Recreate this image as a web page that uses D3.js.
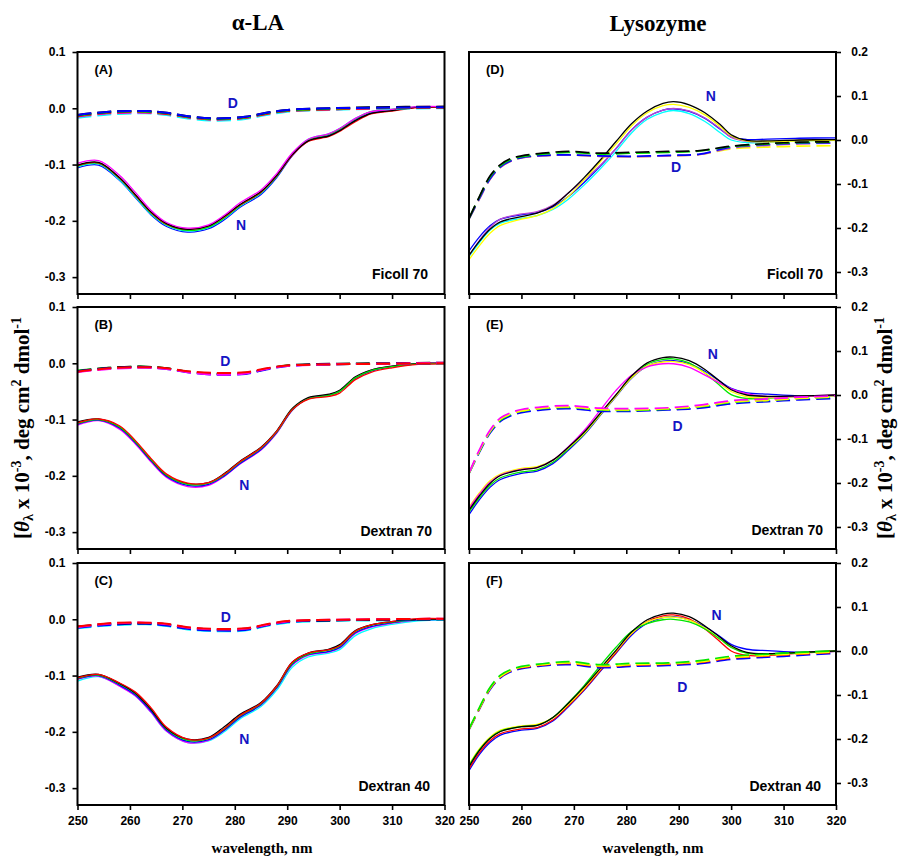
<!DOCTYPE html>
<html>
<head>
<meta charset="utf-8">
<script src="https://cdn.jsdelivr.net/npm/d3@7"></script>
<style>
  body { margin: 0; background: #fff; }
</style>
</head>
<body>
<svg id="chart"></svg>
<script>
// wavelength knots (nm)
const wlAlaN = [250, 254, 258, 261, 264, 267, 271, 275, 278, 281, 285, 288, 291, 294, 298, 300, 303, 306, 310, 315, 320];
const wlAlaD = [250, 256, 263, 267, 271, 276, 282, 286, 290, 298, 307, 320];
const wlLysN = [250, 252, 254, 256, 260, 263, 266, 269, 272, 275, 278, 281, 284, 287, 289, 292, 295, 298, 300, 303, 307, 313, 320];
const wlLysD = [250, 252, 254, 256, 258, 260, 264, 269, 275, 281, 288, 294, 300, 307, 313, 320];

const xTicks = [250, 260, 270, 280, 290, 300, 310, 320];
const yTicksAla = [0.1, 0.0, -0.1, -0.2, -0.3];
const yTicksLys = [0.2, 0.1, 0.0, -0.1, -0.2, -0.3];

//////////////////// alpha-LA, Ficoll 70 (A)
const aNMagenta = [-0.098,-0.093,-0.119,-0.149,-0.181,-0.203,-0.213,-0.207,-0.190,-0.168,-0.145,-0.116,-0.079,-0.055,-0.045,-0.036,-0.018,-0.006,-0.002,0.003,0.003];
const aNBlack = [-0.101,-0.096,-0.123,-0.153,-0.184,-0.205,-0.215,-0.209,-0.192,-0.171,-0.148,-0.119,-0.082,-0.058,-0.049,-0.040,-0.022,-0.009,-0.004,0.002,0.003];
const aNRed = [-0.102,-0.097,-0.124,-0.154,-0.185,-0.206,-0.215,-0.209,-0.193,-0.172,-0.149,-0.120,-0.083,-0.059,-0.050,-0.041,-0.024,-0.010,-0.005,0.001,0.002];
const aNGreen = [-0.103,-0.098,-0.125,-0.155,-0.186,-0.207,-0.217,-0.211,-0.195,-0.173,-0.150,-0.121,-0.082,-0.056,-0.046,-0.037,-0.019,-0.006,-0.002,0.002,0.002];
const aNCyan = [-0.104,-0.099,-0.127,-0.157,-0.188,-0.208,-0.218,-0.212,-0.196,-0.174,-0.151,-0.121,-0.081,-0.055,-0.045,-0.036,-0.018,-0.006,-0.002,0.002,0.002];
const aNBlue = [-0.106,-0.101,-0.128,-0.158,-0.189,-0.210,-0.220,-0.214,-0.198,-0.176,-0.153,-0.123,-0.084,-0.058,-0.048,-0.039,-0.021,-0.008,-0.003,0.002,0.003];

const aDBlack = [-0.012,-0.006,-0.005,-0.008,-0.014,-0.018,-0.015,-0.008,-0.003,0.000,0.002,0.003];
const aDBlue = [-0.012,-0.006,-0.005,-0.008,-0.014,-0.018,-0.015,-0.008,-0.003,0.000,0.001,0.002];
const aDGreen = [-0.013,-0.007,-0.006,-0.009,-0.015,-0.019,-0.016,-0.009,-0.004,-0.001,0.001,0.002];
const aDRed = [-0.014,-0.008,-0.007,-0.010,-0.016,-0.020,-0.017,-0.010,-0.005,-0.002,0.000,0.001];
const aDMagenta = [-0.015,-0.009,-0.008,-0.010,-0.016,-0.020,-0.017,-0.010,-0.005,-0.002,0.000,0.001];
const aDCyan = [-0.017,-0.011,-0.009,-0.012,-0.018,-0.022,-0.019,-0.012,-0.006,-0.003,-0.001,0.000];

//////////////////// alpha-LA, Dextran 70 (B)
const bNBlack = [-0.104,-0.099,-0.113,-0.139,-0.171,-0.199,-0.214,-0.212,-0.196,-0.174,-0.149,-0.120,-0.080,-0.061,-0.055,-0.048,-0.024,-0.012,-0.005,0.000,0.000];
const bNRed = [-0.106,-0.099,-0.111,-0.137,-0.169,-0.197,-0.213,-0.212,-0.197,-0.175,-0.150,-0.121,-0.082,-0.064,-0.059,-0.053,-0.029,-0.016,-0.008,-0.002,-0.001];
const bNGreen = [-0.107,-0.100,-0.113,-0.139,-0.171,-0.199,-0.215,-0.213,-0.198,-0.176,-0.151,-0.122,-0.082,-0.063,-0.057,-0.050,-0.026,-0.013,-0.006,-0.001,0.000];
const bNBlue = [-0.108,-0.101,-0.115,-0.141,-0.173,-0.201,-0.217,-0.215,-0.200,-0.178,-0.153,-0.123,-0.083,-0.063,-0.057,-0.050,-0.027,-0.014,-0.006,-0.001,0.000];
const bNMagenta = [-0.110,-0.102,-0.117,-0.143,-0.175,-0.203,-0.219,-0.217,-0.201,-0.179,-0.154,-0.124,-0.083,-0.062,-0.056,-0.049,-0.025,-0.012,-0.005,-0.001,0.001];

const bDRed = [-0.015,-0.009,-0.007,-0.009,-0.014,-0.017,-0.016,-0.009,-0.004,-0.002,-0.001,0.000];
const bDGreen = [-0.013,-0.008,-0.006,-0.009,-0.015,-0.018,-0.017,-0.010,-0.004,-0.002,-0.001,0.000];
const bDBlack = [-0.014,-0.008,-0.006,-0.009,-0.015,-0.019,-0.018,-0.010,-0.004,-0.001,0.000,0.001];
const bDBlue = [-0.014,-0.009,-0.007,-0.010,-0.016,-0.020,-0.019,-0.011,-0.005,-0.002,-0.001,0.000];
const bDMagenta = [-0.016,-0.010,-0.008,-0.010,-0.016,-0.020,-0.018,-0.010,-0.005,-0.002,-0.001,0.001];

//////////////////// alpha-LA, Dextran 40 (C)
const cNCyan = [-0.110,-0.102,-0.118,-0.136,-0.165,-0.199,-0.219,-0.216,-0.200,-0.177,-0.155,-0.126,-0.085,-0.067,-0.060,-0.054,-0.029,-0.017,-0.009,-0.003,-0.001];
const cNMagenta = [-0.107,-0.101,-0.119,-0.136,-0.165,-0.199,-0.219,-0.215,-0.197,-0.174,-0.152,-0.122,-0.081,-0.064,-0.058,-0.051,-0.025,-0.014,-0.007,-0.001,0.000];
const cNBlue = [-0.106,-0.100,-0.117,-0.134,-0.163,-0.197,-0.217,-0.214,-0.197,-0.174,-0.152,-0.122,-0.080,-0.063,-0.057,-0.050,-0.024,-0.013,-0.006,-0.001,0.000];
const cNGreen = [-0.105,-0.099,-0.115,-0.132,-0.160,-0.195,-0.215,-0.212,-0.195,-0.172,-0.150,-0.120,-0.078,-0.062,-0.055,-0.048,-0.022,-0.011,-0.005,0.000,0.000];
const cNBlack = [-0.103,-0.098,-0.114,-0.131,-0.160,-0.194,-0.213,-0.210,-0.191,-0.169,-0.148,-0.118,-0.076,-0.060,-0.053,-0.045,-0.020,-0.010,-0.004,0.000,0.000];
const cNRed = [-0.104,-0.098,-0.113,-0.129,-0.157,-0.192,-0.213,-0.211,-0.194,-0.171,-0.149,-0.119,-0.076,-0.060,-0.054,-0.047,-0.021,-0.010,-0.004,0.001,0.001];

const cDCyan = [-0.016,-0.011,-0.009,-0.012,-0.018,-0.021,-0.020,-0.012,-0.006,-0.003,-0.002,-0.001];
const cDBlue = [-0.015,-0.010,-0.008,-0.011,-0.017,-0.020,-0.019,-0.011,-0.005,-0.002,-0.001,0.000];
const cDBlack = [-0.013,-0.008,-0.007,-0.009,-0.015,-0.018,-0.017,-0.010,-0.004,-0.002,-0.001,0.000];
const cDMagenta = [-0.014,-0.008,-0.006,-0.009,-0.015,-0.018,-0.017,-0.010,-0.004,-0.001,0.000,0.001];
const cDRed = [-0.013,-0.007,-0.006,-0.008,-0.014,-0.017,-0.016,-0.009,-0.003,-0.001,0.000,0.001];

//////////////////// Lysozyme, Ficoll 70 (D)
const dNCyan = [-0.265,-0.233,-0.205,-0.189,-0.178,-0.172,-0.158,-0.134,-0.102,-0.066,-0.027,0.016,0.047,0.063,0.067,0.060,0.042,0.016,0.000,-0.006,-0.005,-0.002,-0.001];
const dNBlue = [-0.252,-0.220,-0.195,-0.180,-0.170,-0.165,-0.152,-0.128,-0.096,-0.060,-0.020,0.023,0.052,0.068,0.071,0.065,0.049,0.024,0.007,0.001,0.002,0.004,0.005];
const dNViolet = [-0.263,-0.228,-0.199,-0.180,-0.168,-0.163,-0.148,-0.120,-0.090,-0.058,-0.020,0.022,0.052,0.068,0.072,0.066,0.050,0.025,0.006,-0.003,-0.004,-0.001,0.000];
const dNYellow = [-0.272,-0.240,-0.212,-0.194,-0.180,-0.172,-0.156,-0.128,-0.090,-0.050,-0.010,0.032,0.062,0.078,0.081,0.074,0.057,0.030,0.010,-0.002,-0.004,-0.002,-0.001];
const dNBlack = [-0.262,-0.230,-0.203,-0.186,-0.174,-0.166,-0.150,-0.120,-0.085,-0.046,-0.004,0.037,0.066,0.083,0.087,0.080,0.062,0.034,0.012,-0.001,-0.002,0.000,0.001];

const dDYellow = [-0.180,-0.133,-0.089,-0.062,-0.048,-0.041,-0.036,-0.034,-0.037,-0.038,-0.036,-0.033,-0.020,-0.016,-0.014,-0.013];
const dDViolet = [-0.180,-0.134,-0.090,-0.062,-0.048,-0.041,-0.036,-0.034,-0.037,-0.038,-0.036,-0.033,-0.018,-0.012,-0.009,-0.007];
const dDBlue = [-0.179,-0.132,-0.088,-0.061,-0.047,-0.040,-0.035,-0.034,-0.036,-0.037,-0.035,-0.032,-0.016,-0.010,-0.007,-0.006];
const dDGreen = [-0.178,-0.129,-0.084,-0.058,-0.044,-0.038,-0.032,-0.028,-0.032,-0.030,-0.028,-0.025,-0.015,-0.009,-0.006,-0.005];
const dDBlack = [-0.178,-0.128,-0.082,-0.056,-0.042,-0.036,-0.030,-0.026,-0.030,-0.028,-0.026,-0.024,-0.014,-0.008,-0.005,-0.004];

//////////////////// Lysozyme, Dextran 70 (E)
const eNBlue = [-0.272,-0.238,-0.210,-0.192,-0.178,-0.173,-0.156,-0.125,-0.090,-0.047,-0.004,0.038,0.066,0.077,0.078,0.071,0.054,0.030,0.015,0.005,0.002,-0.002,-0.002];
const eNGreen = [-0.266,-0.233,-0.205,-0.188,-0.175,-0.170,-0.153,-0.122,-0.088,-0.045,-0.002,0.040,0.070,0.081,0.082,0.073,0.050,0.020,0.001,-0.008,-0.007,-0.003,-0.001];
const eNYellow = [-0.255,-0.222,-0.195,-0.180,-0.167,-0.163,-0.148,-0.120,-0.087,-0.045,-0.003,0.039,0.066,0.075,0.076,0.069,0.050,0.025,0.008,-0.004,-0.006,-0.003,-0.002];
const eNMagenta = [-0.258,-0.225,-0.198,-0.182,-0.169,-0.165,-0.148,-0.117,-0.080,-0.035,0.010,0.045,0.064,0.071,0.071,0.063,0.045,0.026,0.014,0.003,-0.004,-0.003,0.000];
const eNBlack = [-0.262,-0.229,-0.201,-0.183,-0.170,-0.165,-0.148,-0.118,-0.084,-0.042,0.000,0.043,0.073,0.085,0.086,0.078,0.058,0.030,0.012,0.000,-0.003,-0.002,0.000];

const eDBlue = [-0.179,-0.130,-0.087,-0.060,-0.047,-0.040,-0.034,-0.031,-0.037,-0.037,-0.034,-0.030,-0.020,-0.015,-0.011,-0.008];
const eDGreen = [-0.178,-0.128,-0.084,-0.057,-0.044,-0.037,-0.031,-0.028,-0.034,-0.035,-0.032,-0.027,-0.017,-0.012,-0.008,-0.005];
const eDYellow = [-0.178,-0.127,-0.083,-0.055,-0.043,-0.036,-0.030,-0.027,-0.033,-0.034,-0.031,-0.026,-0.016,-0.012,-0.008,-0.004];
const eDMagenta = [-0.177,-0.124,-0.080,-0.052,-0.040,-0.033,-0.027,-0.024,-0.030,-0.031,-0.029,-0.023,-0.013,-0.009,-0.005,-0.002];

//////////////////// Lysozyme, Dextran 40 (F)
const fNBlue = [-0.272,-0.235,-0.208,-0.191,-0.180,-0.176,-0.159,-0.126,-0.089,-0.047,-0.006,0.036,0.063,0.076,0.078,0.071,0.055,0.032,0.015,0.004,0.001,-0.003,-0.001];
const fNRed = [-0.268,-0.231,-0.204,-0.188,-0.177,-0.174,-0.157,-0.124,-0.087,-0.045,-0.004,0.039,0.067,0.080,0.082,0.073,0.050,0.020,0.000,-0.010,-0.010,-0.005,-0.001];
const fNYellow = [-0.258,-0.222,-0.196,-0.180,-0.170,-0.167,-0.152,-0.121,-0.084,-0.042,-0.001,0.040,0.066,0.076,0.077,0.070,0.052,0.026,0.009,-0.005,-0.008,-0.004,0.000];
const fNGreen = [-0.260,-0.224,-0.198,-0.182,-0.172,-0.169,-0.151,-0.117,-0.078,-0.034,0.008,0.044,0.062,0.071,0.072,0.066,0.050,0.026,0.008,-0.005,-0.007,-0.004,0.000];
const fNBlack = [-0.263,-0.226,-0.199,-0.183,-0.172,-0.169,-0.151,-0.118,-0.081,-0.040,0.001,0.043,0.071,0.084,0.086,0.078,0.057,0.030,0.012,-0.003,-0.006,-0.003,0.000];

const fDBlue = [-0.179,-0.132,-0.088,-0.061,-0.047,-0.040,-0.034,-0.031,-0.038,-0.035,-0.033,-0.029,-0.019,-0.014,-0.010,-0.005];
const fDRed = [-0.178,-0.131,-0.086,-0.059,-0.045,-0.038,-0.032,-0.028,-0.035,-0.032,-0.030,-0.026,-0.016,-0.011,-0.007,-0.003];
const fDYellow = [-0.178,-0.130,-0.085,-0.058,-0.044,-0.037,-0.031,-0.027,-0.034,-0.031,-0.029,-0.025,-0.015,-0.010,-0.006,-0.002];
const fDGreen = [-0.177,-0.128,-0.083,-0.055,-0.042,-0.035,-0.029,-0.024,-0.031,-0.028,-0.027,-0.022,-0.012,-0.007,-0.003,0.000];

const COLORS = {
  black: "#000000", red: "#ff0000", green: "#00e600", blue: "#0000ff",
  magenta: "#ff00ff", cyan: "#00ffff", yellow: "#ffff00", violet: "#b848d0",
};

// panel table built from the arrays above
const panels = [
  { tag: "(A)", solvent: "Ficoll 70", row: 0, col: 0, solventX: 428, solventDy: 15,
    native: [[aNBlue, "blue"], [aNCyan, "cyan"], [aNGreen, "green"], [aNRed, "red"], [aNBlack, "black"], [aNMagenta, "magenta"]],
    denat: [[aDCyan, "cyan"], [aDMagenta, "magenta"], [aDRed, "red"], [aDGreen, "green"], [aDBlack, "black"], [aDBlue, "blue"]],
    nAt: [281.2, -0.207], dAt: [279.6, 0.010] },
  { tag: "(B)", solvent: "Dextran 70", row: 1, col: 0, solventX: 432, solventDy: 13.5,
    native: [[bNMagenta, "magenta"], [bNBlue, "blue"], [bNBlack, "black"], [bNGreen, "green"], [bNRed, "red"]],
    denat: [[bDGreen, "green"], [bDBlack, "black"], [bDBlue, "blue"], [bDMagenta, "magenta"], [bDRed, "red"]],
    nAt: [281.8, -0.216], dAt: [278.2, 0.005] },
  { tag: "(C)", solvent: "Dextran 40", row: 2, col: 0, solventX: 430, solventDy: 14,
    native: [[cNCyan, "cyan"], [cNMagenta, "magenta"], [cNBlue, "blue"], [cNGreen, "green"], [cNBlack, "black"], [cNRed, "red"]],
    denat: [[cDCyan, "cyan"], [cDBlue, "blue"], [cDBlack, "black"], [cDMagenta, "magenta"], [cDRed, "red"]],
    nAt: [281.8, -0.212], dAt: [278.3, 0.004] },
  { tag: "(D)", solvent: "Ficoll 70", row: 0, col: 1, solventX: 823, solventDy: 15,
    native: [[dNCyan, "cyan"], [dNBlue, "blue"], [dNViolet, "violet"], [dNYellow, "yellow"], [dNBlack, "black"]],
    denat: [[dDYellow, "yellow"], [dDViolet, "violet"], [dDBlue, "blue"], [dDGreen, "green"], [dDBlack, "black"]],
    nAt: [296.1, 0.099], dAt: [289.5, -0.062] },
  { tag: "(E)", solvent: "Dextran 70", row: 1, col: 1, solventX: 823, solventDy: 14,
    native: [[eNBlue, "blue"], [eNGreen, "green"], [eNYellow, "yellow"], [eNMagenta, "magenta"], [eNBlack, "black"]],
    denat: [[eDBlue, "blue"], [eDGreen, "green"], [eDYellow, "yellow"], [eDMagenta, "magenta"]],
    nAt: [296.5, 0.093], dAt: [289.8, -0.070] },
  { tag: "(F)", solvent: "Dextran 40", row: 2, col: 1, solventX: 821, solventDy: 14.5,
    native: [[fNBlue, "blue"], [fNRed, "red"], [fNYellow, "yellow"], [fNGreen, "green"], [fNBlack, "black"]],
    denat: [[fDBlue, "blue"], [fDRed, "red"], [fDYellow, "yellow"], [fDGreen, "green"]],
    nAt: [297.2, 0.083], dAt: [290.7, -0.081] },
];

const WIDTH = 902, HEIGHT = 856;
const COL_X = [77.5, 469];
const ROW_Y = [52, 307, 563];
const PANEL_W = 367, PANEL_H = 242;
const SANS = "'Liberation Sans', Arial, Helvetica, sans-serif";
const SERIF = "'Liberation Serif', 'Times New Roman', serif";
const LABEL_BLUE = "#1414c4";

const svg = d3.select("#chart").attr("width", WIDTH).attr("height", HEIGHT)
  .style("background", "#fff");

const x = d3.scaleLinear().domain([250, 320]).range([0, PANEL_W]);
const yAla = d3.scaleLinear().domain([-0.33, 0.1]).range([PANEL_H, 0]);
const yLys = d3.scaleLinear().domain([-0.35, 0.2]).range([PANEL_H, 0]);

const fmt = (d) => d.toFixed(1);

function styleAxis(sel) {
  sel.select(".domain").remove();
  sel.selectAll(".tick line").attr("stroke", "#000").attr("stroke-width", 1.6);
  sel.selectAll(".tick text")
    .attr("fill", "#000")
    .style("font-family", SANS)
    .style("font-weight", "bold")
    .style("font-size", "12px");
}

function drawPanel(p) {
  const g = svg.append("g").attr("transform", `translate(${COL_X[p.col]},${ROW_Y[p.row]})`);
  const y = p.col === 0 ? yAla : yLys;
  const wlN = p.col === 0 ? wlAlaN : wlLysN;
  const wlD = p.col === 0 ? wlAlaD : wlLysD;

  const line = d3.line()
    .x((d) => x(d[0]))
    .y((d) => y(d[1]))
    .curve(d3.curveCatmullRom.alpha(0.5));

  // native spectra (solid)
  g.selectAll(".native")
    .data(p.native)
    .enter()
    .append("path")
    .classed("native", true)
    .attr("d", (s) => line(d3.zip(wlN, s[0])))
    .attr("fill", "none")
    .attr("stroke", (s) => COLORS[s[1]])
    .attr("stroke-width", 1.3);

  // denatured spectra (dashed)
  g.selectAll(".denat")
    .data(p.denat)
    .enter()
    .append("path")
    .classed("denat", true)
    .attr("d", (s) => line(d3.zip(wlD, s[0])))
    .attr("fill", "none")
    .attr("stroke", (s) => COLORS[s[1]])
    .attr("stroke-width", p.col === 0 ? 2 : 1.7)
    .attr("stroke-dasharray", "14,6");

  // x axis
  g.append("g")
    .attr("transform", `translate(0,${PANEL_H})`)
    .call(d3.axisBottom(x).tickValues(xTicks).tickSize(5).tickSizeOuter(0).tickPadding(6)
      .tickFormat(p.row === 2 ? d3.format("d") : ""))
    .call(styleAxis);

  // y axis: left for alpha-LA, right for lysozyme
  if (p.col === 0) {
    g.append("g")
      .call(d3.axisLeft(y).tickValues(yTicksAla).tickSize(5).tickSizeOuter(0).tickPadding(7).tickFormat(fmt))
      .call(styleAxis);
  } else {
    g.append("g")
      .attr("transform", `translate(${PANEL_W},0)`)
      .call(d3.axisRight(y).tickValues(yTicksLys).tickSize(5).tickSizeOuter(0).tickFormat(fmt))
      .call(styleAxis)
      .selectAll(".tick text")
      .attr("text-anchor", "end")
      .attr("x", 32);
  }

  // frame
  g.append("rect")
    .attr("width", PANEL_W)
    .attr("height", PANEL_H)
    .attr("fill", "none")
    .attr("stroke", "#000")
    .attr("stroke-width", 2);

  // panel tag
  g.append("text")
    .attr("x", 17)
    .attr("y", 21.5)
    .style("font-family", SANS)
    .style("font-weight", "bold")
    .style("font-size", "13px")
    .text(p.tag);

  // solvent
  g.append("text")
    .attr("x", p.solventX - COL_X[p.col])
    .attr("y", PANEL_H - p.solventDy)
    .attr("text-anchor", "end")
    .style("font-family", SANS)
    .style("font-weight", "bold")
    .style("font-size", "14px")
    .text(p.solvent);

  // N / D labels
  [["N", p.nAt], ["D", p.dAt]].forEach(([t, at]) => {
    g.append("text")
      .attr("x", x(at[0]))
      .attr("y", y(at[1]))
      .attr("dy", "0.36em")
      .attr("text-anchor", "middle")
      .attr("fill", LABEL_BLUE)
      .style("font-family", SANS)
      .style("font-weight", "bold")
      .style("font-size", "14px")
      .text(t);
  });
}

panels.forEach(drawPanel);

// column titles
[["α-LA", 258, 30], ["Lysozyme", 658, 30.5]].forEach(([t, cx, cy]) => {
  svg.append("text")
    .attr("x", cx)
    .attr("y", cy)
    .attr("text-anchor", "middle")
    .style("font-family", SERIF)
    .style("font-weight", "bold")
    .style("font-size", "23px")
    .text(t);
});

// x titles
[262, 653].forEach((cx) => {
  svg.append("text")
    .attr("x", cx)
    .attr("y", 853)
    .attr("text-anchor", "middle")
    .style("font-family", SERIF)
    .style("font-weight", "bold")
    .style("font-size", "15px")
    .text("wavelength, nm");
});

// y titles
function yTitle(cx, cy) {
  const t = svg.append("text")
    .attr("transform", `translate(${cx},${cy}) rotate(-90)`)
    .attr("text-anchor", "middle")
    .style("font-family", SERIF)
    .style("font-weight", "bold")
    .style("font-size", "21px");
  t.append("tspan").text("[");
  t.append("tspan").style("font-style", "italic").text("θ");
  t.append("tspan").attr("dy", 4).style("font-size", "14px").text("λ");
  t.append("tspan").attr("dy", -4).text(" x 10");
  t.append("tspan").attr("dy", -8).style("font-size", "14px").text("-3");
  t.append("tspan").attr("dy", 8).text(", deg cm");
  t.append("tspan").attr("dy", -8).style("font-size", "14px").text("2");
  t.append("tspan").attr("dy", 8).text(" dmol");
  t.append("tspan").attr("dy", -8).style("font-size", "14px").text("-1");
}
yTitle(29, 428);
yTitle(892, 428);
</script>
</body>
</html>
